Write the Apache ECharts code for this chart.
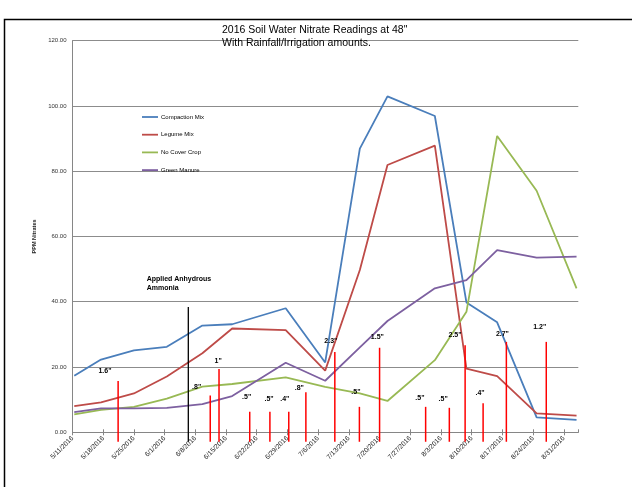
<!DOCTYPE html>
<html><head><meta charset="utf-8">
<script src="https://cdn.jsdelivr.net/npm/echarts@6/dist/echarts.min.js"></script>
<style>html,body{margin:0;padding:0;background:#fff}#c{width:632px;height:487px}</style>
</head><body><div id="c"></div>
<script>
// Tick labels (weekly, starting 5/11/2016 = day 0)
const tickLabels = ['5/11/2016','5/18/2016','5/25/2016','6/1/2016','6/8/2016','6/15/2016','6/22/2016','6/29/2016','7/6/2016','7/13/2016','7/20/2016','7/27/2016','8/3/2016','8/10/2016','8/17/2016','8/24/2016','8/31/2016'];
// Sampling dates expressed as days after 5/11/2016
const sampleDays = [0.4, 6.5, 14.0, 21.5, 29.6, 36.4, 48.6, 57.6, 65.5, 71.8, 82.6, 89.8, 96.8, 105.8, 114.9];
const compactionMix = [17.3, 22.3, 25.1, 26.2, 32.7, 33.1, 38.0, 21.4, 86.9, 102.9, 96.9, 39.8, 33.7, 4.6, 3.8];
const legumeMix     = [8.0, 9.2, 11.9, 17.1, 24.2, 31.8, 31.3, 18.9, 49.7, 81.9, 87.8, 19.5, 17.2, 5.8, 5.1];
const noCoverCrop   = [5.5, 6.9, 7.8, 10.3, 14.0, 14.8, 16.8, 13.9, 11.9, 9.6, 22.1, 36.9, 90.8, 74.0, 44.1];
const greenManure   = [6.2, 7.3, 7.3, 7.5, 8.6, 11.1, 21.3, 15.8, 26.0, 34.1, 44.1, 46.6, 55.8, 53.5, 53.8];
const yTicks = [0, 20, 40, 60, 80, 100, 120];
// Rainfall / irrigation markers
const rainDays      = [10.4, 31.4, 33.4, 40.4, 45.0, 49.3, 53.2, 59.8, 65.4, 70.0, 80.5, 85.9, 89.5, 93.6, 98.9, 108.0];
const rainTops      = [15.7, 11.3, 19.4, 6.3, 6.3, 6.3, 12.3, 24.6, 7.8, 25.9, 7.8, 7.5, 26.7, 8.9, 27.7, 27.7];
const rainLabels    = ['1.6"', '.8"', '1"', '.5"', '.5"', '.4"', '.8"', '2.3"', '.5"', '1.5"', '.5"', '.5"', '2.5"', '.4"', '2.7"', '1.2"'];
const rainLabelDays = [7.4, 28.3, 33.2, 39.7, 44.8, 48.4, 51.7, 58.9, 64.6, 69.5, 79.2, 84.5, 87.2, 92.9, 98.0, 106.5];
const rainLabelVals = [18.9, 14.0, 21.8, 10.7, 10.1, 10.1, 13.7, 28.0, 12.3, 29.3, 10.6, 10.2, 29.8, 11.9, 30.1, 32.3];
// Anhydrous ammonia application marker
const ammoniaDay = [26.4];
const ammoniaTop = [38.4];
const ammoniaLabel = ['Applied Anhydrous', 'Ammonia'];
const ammoniaLabelDay = [16.9];
const ammoniaLabelVal = [47.0];

const FONT = '"Liberation Sans", Arial, sans-serif';
const BELOW = -2.9;

const zip = (xs, ys) => xs.map((x, i) => [x, ys[i]]);
const seriesNames = ['Compaction Mix', 'Legume Mix', 'No Cover Crop', 'Green Manure'];
const seriesData = [compactionMix, legumeMix, noCoverCrop, greenManure];
const seriesColors = ['#4A7EBB', '#BE4B48', '#98B954', '#7D60A0'];

const xAxisBase = {
  type: 'value', min: 0, max: 115.3, interval: 7,
  splitLine: { show: false }
};

const chart = echarts.init(document.getElementById('c'), null, { renderer: 'canvas' });
chart.setOption({
  animation: false,
  backgroundColor: '#fff',
  title: {
    text: '2016 Soil Water Nitrate Readings at 48"\nWith Rainfall/Irrigation amounts.',
    left: 222, top: 23.5, padding: 0,
    textStyle: { fontFamily: FONT, fontSize: 10.5, fontWeight: 'normal', color: '#000', lineHeight: 13 }
  },
  graphic: [{
    type: 'rect', silent: true, z: 100,
    shape: { x: 4.5, y: 19.5, width: 700, height: 600 },
    style: { fill: 'none', stroke: '#000', lineWidth: 1.5 }
  }],
  legend: {
    orient: 'vertical', left: 142, top: 113, padding: 0,
    icon: 'rect', itemWidth: 16, itemHeight: 1.8, itemGap: 9.7,
    data: seriesNames,
    textStyle: { fontFamily: FONT, fontSize: 6, color: '#000', lineHeight: 8, padding: [0, 0, 0, -2] }
  },
  grid: { left: 72.5, right: 53.7, top: 40.6, bottom: 54.7, containLabel: false },
  xAxis: [
    Object.assign({}, xAxisBase, {
      axisLine: { show: true, lineStyle: { color: '#868686', width: 1 } },
      axisTick: { show: true, inside: false, length: 3, lineStyle: { color: '#868686' } },
      axisLabel: {
        rotate: 45, margin: 5, fontFamily: FONT, fontSize: 6.7, color: '#222',
        showMaxLabel: false,
        formatter: v => { const i = Math.round(v / 7); return Math.abs(v - i * 7) < 1e-6 && tickLabels[i] ? tickLabels[i] : ''; }
      }
    }),
    Object.assign({}, xAxisBase, {
      position: 'bottom',
      axisLine: { show: false },
      axisTick: { show: true, inside: true, length: 3, lineStyle: { color: '#868686' } },
      axisLabel: { show: false }
    })
  ],
  yAxis: {
    type: 'value', min: yTicks[0], max: yTicks[yTicks.length - 1], interval: 20,
    name: 'PPM Nitrates', nameLocation: 'middle', nameGap: 32, nameRotate: 90,
    nameTextStyle: { fontFamily: FONT, fontSize: 5.5, fontWeight: 'bold', color: '#222' },
    axisLine: { show: true, lineStyle: { color: '#868686', width: 1 } },
    axisTick: { show: false },
    axisLabel: { margin: 6, fontFamily: FONT, fontSize: 6, color: '#333', formatter: v => v.toFixed(2) },
    splitLine: { show: true, lineStyle: { color: '#8C8C8C', width: 1 } }
  },
  series: seriesNames.map((name, k) => ({
    name, type: 'line', xAxisIndex: 0,
    data: zip(sampleDays, seriesData[k]),
    symbol: 'none', showSymbol: false,
    lineStyle: { color: seriesColors[k], width: 1.8 },
    itemStyle: { color: seriesColors[k] },
    z: 3
  })).concat([
    {
      name: 'Rainfall', type: 'custom', xAxisIndex: 0, z: 5, clip: false,
      data: rainDays.map((d, i) => [d, rainTops[i], rainLabelDays[i], rainLabelVals[i]]),
      renderItem: function (params, api) {
        const p0 = api.coord([api.value(0), BELOW]);
        const p1 = api.coord([api.value(0), api.value(1)]);
        const lp = api.coord([api.value(2), api.value(3)]);
        return { type: 'group', children: [
          { type: 'line', shape: { x1: p0[0], y1: p0[1], x2: p1[0], y2: p1[1] }, style: { stroke: '#FF0000', lineWidth: 1.5 } },
          { type: 'text', x: lp[0], y: lp[1], style: { text: rainLabels[params.dataIndex], align: 'center', verticalAlign: 'middle', fontFamily: FONT, fontSize: 7, fontWeight: 'bold', fill: '#000' } }
        ] };
      }
    },
    {
      name: 'Ammonia', type: 'custom', xAxisIndex: 0, z: 5, clip: false,
      data: ammoniaDay.map((d, i) => [d, ammoniaTop[i], ammoniaLabelDay[i], ammoniaLabelVal[i]]),
      renderItem: function (params, api) {
        const p0 = api.coord([api.value(0), BELOW]);
        const p1 = api.coord([api.value(0), api.value(1)]);
        const lp = api.coord([api.value(2), api.value(3)]);
        return { type: 'group', children: [
          { type: 'line', shape: { x1: p0[0], y1: p0[1], x2: p1[0], y2: p1[1] }, style: { stroke: '#000', lineWidth: 1.3 } },
          { type: 'text', x: lp[0], y: lp[1] - 4.5, style: { text: ammoniaLabel.join('\n'), align: 'left', verticalAlign: 'top', lineHeight: 9, fontFamily: FONT, fontSize: 7, fontWeight: 'bold', fill: '#000' } }
        ] };
      }
    }
  ])
});
</script>
</body></html>
